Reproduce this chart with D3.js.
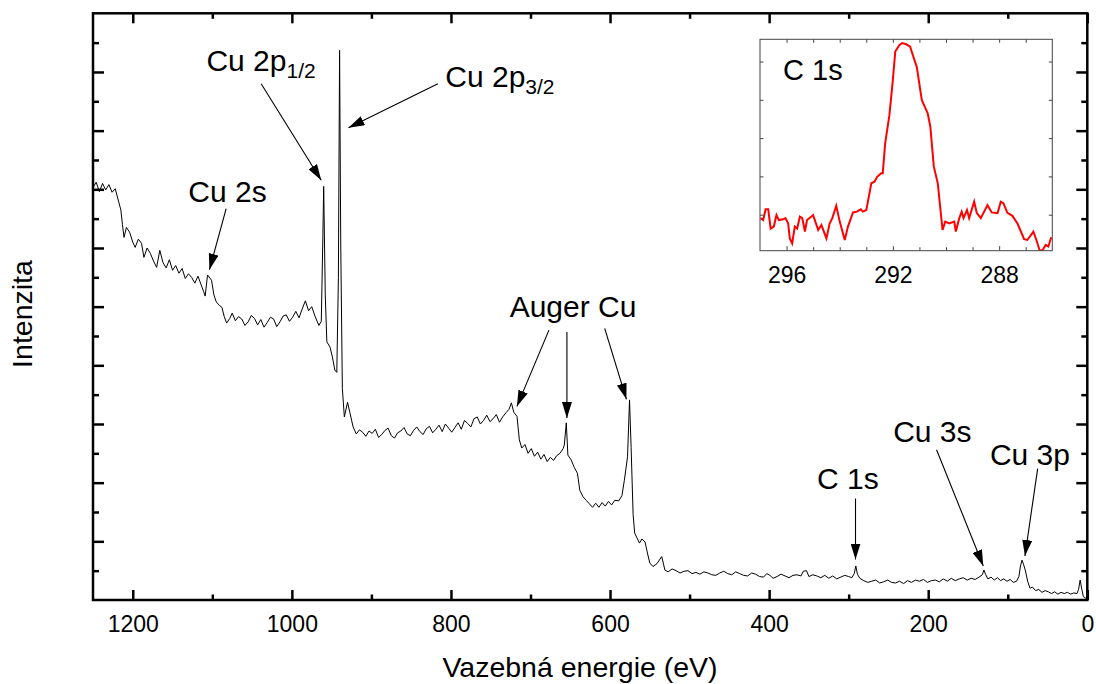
<!DOCTYPE html>
<html>
<head>
<meta charset="utf-8">
<style>
     body {
          margin: 0;
          background: #fff;
          font-family: "Liberation Sans", Arial, sans-serif;
     }
     .frame {
          fill: none;
          stroke: #000;
          stroke-width: 2.5px;
     }
     .axis path {
          display: none;
     }
     .axis line {
          stroke: #000;
          stroke-width: 2.5px;
     }
     .axis text {
          font-family: "Liberation Sans", Arial, sans-serif;
          font-size: 23px;
          fill: #000;
     }
     .inset-axis line {
          stroke: #444;
          stroke-width: 1px;
     }
     .spectrum {
          fill: none;
          stroke: #000;
          stroke-width: 1px;
     }
     .c1s-line {
          fill: none;
          stroke: #ff0000;
          stroke-width: 2px;
     }
     .label {
          font-size: 30px;
          fill: #000;
     }
     .axis-title {
          font-size: 28.5px;
          fill: #000;
     }
     .arrow {
          stroke: #000;
          stroke-width: 1.1px;
     }
</style>
</head>
<body>
<script src="https://d3js.org/d3.v7.min.js"></script>
<script>

     // survey spectrum, binding energy (eV) and intensity (arb. units)
     var surveyEnergy = [1250, 1246, 1242, 1238, 1234, 1230, 1226, 1222, 1218, 1215, 1213, 1211, 1208, 1204, 1200, 1197, 1193, 1189, 1186, 1182,
          1178, 1174, 1170, 1166, 1162, 1158, 1154, 1150, 1146, 1142, 1138, 1134, 1130, 1126, 1122, 1118, 1114, 1111, 1109, 1106,
          1101, 1098, 1095, 1091, 1088, 1085, 1082, 1078, 1075, 1071, 1067, 1063, 1059, 1055, 1051, 1047, 1043, 1039, 1035, 1031,
          1027, 1023, 1019, 1015, 1011, 1007, 1003, 999, 995, 991, 987, 983, 979, 975, 971, 966, 963, 961, 960, 958,
          956, 952, 949, 946, 943.5, 941.5, 940, 938.5, 936.5, 934, 930, 927, 923, 919, 915, 911, 907, 903, 899, 895,
          891, 887, 883, 879, 875, 871, 867, 863, 859, 855, 851, 847, 843, 839, 835, 831, 827, 823, 819, 815,
          811, 807, 803, 799, 795, 791, 787, 783, 779, 775, 771, 767, 763, 759, 755, 751, 747, 743, 739, 735,
          731, 727, 724, 721, 717, 714, 711, 707, 703, 699, 695, 691, 687, 683, 679, 675, 671, 667, 663, 659,
          657.5, 655, 653, 649, 645, 641, 638, 634, 630, 626, 622, 618, 614, 610, 606, 602, 598, 594, 589, 585,
          582, 578, 575.5, 573.5, 571, 569, 563, 560, 556, 553, 550, 546, 541, 538, 535, 531, 527, 522, 517, 512,
          507, 502, 497, 492, 487, 482, 477, 472, 467, 462, 457, 452, 447, 442, 437, 432, 427, 422, 417, 412,
          407, 403, 399, 395, 390, 385, 380, 375, 370, 365, 360, 357, 353, 350, 345, 340, 335, 330, 325, 320,
          315, 310, 305, 300, 296, 293, 291, 289, 286, 281, 276, 271, 266, 261, 256, 251, 246, 241, 236, 231,
          226, 221, 216, 211, 206, 201, 196, 191, 186, 181, 176, 171, 166, 161, 156, 151, 146, 141, 136, 132,
          130, 128, 125, 121, 117, 113, 109, 105, 101, 97, 93, 89, 86, 84, 82, 80, 78, 75, 72, 69,
          65, 61, 57, 53, 49, 45, 41, 37, 33, 29, 25, 21, 17, 13, 11, 9, 7, 5, 2, 0];

     var surveyIntensity = [70.3, 71.2, 69.6, 71.0, 69.9, 70.8, 69.5, 70.1, 68.0, 66.5, 64.0, 61.8, 63.5, 62.7, 61.0, 60.1, 61.5, 60.8, 58.4, 60.0,
          59.1, 57.8, 56.7, 59.6, 57.5, 56.6, 58.0, 56.2, 57.0, 55.7, 56.5, 54.8, 55.6, 55.0, 54.0, 55.2, 53.7, 52.6, 51.8, 55.4,
          54.5, 52.0, 50.8, 50.2, 49.9, 48.3, 47.2, 48.0, 48.9, 47.6, 48.3, 47.9, 46.8, 47.4, 48.5, 48.0, 46.9, 47.8, 46.5, 47.3,
          48.2, 47.9, 46.6, 47.4, 48.4, 48.6, 47.5, 48.2, 49.2, 48.1, 49.6, 51.0, 49.3, 50.0, 48.4, 46.8, 47.5, 62.0, 70.5, 52.0,
          44.0, 43.1, 41.4, 39.2, 38.8, 55.0, 93.7, 60.0, 36.0, 31.2, 33.7, 31.9, 29.5, 28.3, 29.0, 28.6, 27.9, 28.8, 28.4, 29.1,
          27.7, 28.2, 28.9, 29.3, 28.0, 27.6, 28.5, 28.8, 29.4, 28.3, 28.0, 28.9, 29.5, 28.7, 28.2, 29.2, 29.6, 28.5, 29.1, 29.8,
          28.7, 30.0, 29.3, 28.6, 29.4, 30.2, 29.1, 30.6, 30.1, 29.5, 30.9, 31.2, 30.0, 30.6, 31.5, 30.4, 30.9, 31.6, 30.3, 31.2,
          31.9, 32.5, 33.6, 32.0, 31.3, 27.3, 25.9, 26.5, 25.0, 25.8, 24.5, 25.2, 24.0, 24.8, 23.6, 24.3, 23.8, 24.6, 25.0, 25.8,
          26.4, 30.2, 24.7, 23.9, 22.6, 21.6, 18.7, 17.6, 17.0, 16.4, 15.8, 16.5, 15.8, 16.6, 16.0, 16.8, 16.2, 17.0, 16.9, 17.8,
          20.4, 24.4, 34.1, 26.0, 14.6, 11.4, 9.7, 10.4, 9.9, 8.0, 6.3, 5.7, 6.2, 6.8, 7.4, 5.1, 4.8, 5.3, 5.0, 4.6,
          4.9, 5.0, 4.5, 4.7, 4.4, 4.8, 4.6, 4.3, 4.2, 4.6, 4.9, 4.5, 4.3, 4.8, 4.5, 4.2, 4.1, 4.6, 4.4, 4.0,
          3.9, 4.5, 4.2, 3.7, 4.0, 4.4, 4.1, 3.8, 4.2, 4.3, 4.1, 4.9, 5.0, 4.0, 4.3, 4.1, 3.8, 4.2, 3.7, 4.1,
          3.6, 3.9, 4.2, 4.0, 3.8, 4.5, 5.8, 4.4, 3.7, 3.3, 3.0, 3.2, 3.4, 2.9, 3.1, 3.4, 3.0, 2.9, 3.2, 2.8,
          3.3, 3.0, 3.4, 3.2, 3.5, 3.0, 3.3, 3.4, 3.1, 3.6, 3.2, 3.7, 3.3, 3.6, 3.8, 3.4, 3.7, 3.5, 3.9, 4.3,
          5.1, 4.4, 3.6, 3.9, 3.4, 3.8, 3.3, 3.6, 3.2, 3.5, 3.0, 3.2, 4.0, 5.8, 6.8, 6.0, 5.1, 3.2, 2.0, 2.2,
          1.6, 1.8, 1.3, 1.6, 1.4, 1.1, 1.4, 1.0, 1.3, 1.1, 1.3, 1.0, 1.2, 1.1, 1.8, 3.4, 1.9, 0.6, 0.3, 0.2];

     // C 1s detail (inset)
     var c1sEnergy = [296.98, 296.88, 296.79, 296.69, 296.60, 296.48, 296.38, 296.29, 296.13, 296.04, 295.94, 295.88, 295.79, 295.69,
          295.60, 295.50, 295.41, 295.31, 295.23, 295.00, 294.81, 294.69, 294.50, 294.38, 294.28, 294.13, 294.00, 293.81,
          293.69, 293.50, 293.35, 293.21, 293.13, 293.00, 292.81, 292.69, 292.59, 292.44, 292.38, 292.29, 292.13, 292.00,
          291.91, 291.75, 291.65, 291.50, 291.35, 291.25, 291.10, 290.91, 290.69, 290.59, 290.46, 290.31, 290.13, 290.03,
          289.88, 289.69, 289.63, 289.50, 289.41, 289.34, 289.21, 289.13, 288.94, 288.84, 288.69, 288.44, 288.28, 288.06,
          287.94, 287.84, 287.69, 287.50, 287.31, 287.06, 286.94, 286.71, 286.60, 286.48, 286.38, 286.25, 286.15, 286.04];

     var c1sIntensity = [0.91, 0.86, 1.14, 1.14, 0.64, 0.69, 0.99, 0.86, 0.88, 0.91, 0.77, 0.38, 0.25, 0.69,
          0.64, 0.95, 0.91, 0.56, 0.86, 0.99, 0.60, 0.73, 0.38, 0.77, 0.91, 1.23, 0.82, 0.34,
          0.69, 1.06, 1.08, 1.14, 1.08, 1.12, 1.82, 1.86, 1.99, 2.08, 2.08, 2.86, 3.60, 4.52,
          5.26, 5.43, 5.48, 5.45, 5.39, 5.17, 4.86, 3.99, 3.65, 3.30, 2.26, 1.82, 0.60, 0.82,
          0.77, 0.82, 0.56, 0.91, 1.08, 0.91, 1.12, 0.91, 1.34, 1.04, 0.91, 1.25, 1.06, 1.04,
          1.34, 1.30, 1.05, 0.97, 0.77, 0.36, 0.34, 0.56, 0.34, 0.08, 0.06, 0.21, 0.17, 0.41];

     var xTicks = [1200, 1000, 800, 600, 400, 200, 0];
     var xMinorTicks = [1100, 900, 700, 500, 300, 100];
     var yTicks = [10, 20, 30, 40, 50, 60, 70, 80, 90];
     var yMinorTicks = [5, 15, 25, 35, 45, 55, 65, 75, 85, 95];
     var insetTicks = [296, 292, 288];
     var insetMinorTicks = [295, 294, 293, 291, 290, 289, 287];
     var insetYTicks = [1, 2, 3, 4, 5];

     // peak labels and arrows, in data units (eV, intensity)
     var peakLabels = [
          {text: "Cu 2p", sub: "1/2", e: 1107.4, v: 90.1},
          {text: "Cu 2p", sub: "3/2", e: 807.1, v: 87.4},
          {text: "Cu 2s", e: 1130.1, v: 67.8},
          {text: "Auger Cu", e: 726.2, v: 48.3},
          {text: "C 1s", e: 339.7, v: 19.0},
          {text: "Cu 3s", e: 244.1, v: 27.0},
          {text: "Cu 3p", e: 122.4, v: 23.0}
     ];
     var peakArrows = [
          [1038.6, 88.0, 963.1, 71.55],
          [816.4, 88.0, 928.8, 80.5],
          [1082.6, 66.7, 1103.6, 56.3],
          [676.8, 46.0, 717.1, 33.0],
          [654.2, 45.7, 654.2, 31.0],
          [606.7, 46.3, 579.4, 34.2],
          [291.4, 17.3, 291.4, 6.9],
          [189.5, 25.6, 130.8, 5.8],
          [62.4, 22.4, 78.4, 7.5]
     ];

     var width = 1096, height = 684;
     var plot = {left: 93, right: 1087.3, top: 13.3, bottom: 600};
     var inset = {left: 760, right: 1052.3, top: 39.3, bottom: 250.7};

     var svg = d3.select("body").append("svg")
          .attr("width", width)
          .attr("height", height);

     svg.append("defs").append("marker")
          .attr("id", "head")
          .attr("viewBox", "0 -5 16 10")
          .attr("refX", 16)
          .attr("refY", 0)
          .attr("markerWidth", 16)
          .attr("markerHeight", 10)
          .attr("markerUnits", "userSpaceOnUse")
          .attr("orient", "auto")
       .append("path")
          .attr("d", "M0,-5L16,0L0,5Z")
          .attr("fill", "#000");

     var x = d3.scaleLinear().domain([1250, 0]).range([plot.left, plot.right]);
     var y = d3.scaleLinear().domain([0, 100]).range([plot.bottom, plot.top]);

     var survey = surveyEnergy.map(function(e, i) { return [e, surveyIntensity[i]]; });

     var line = d3.line()
          .x(function(d) { return x(d[0]); })
          .y(function(d) { return y(d[1]); });

     svg.append("path")
          .datum(survey)
          .attr("class", "spectrum")
          .attr("d", line);

     // axes: ticks point inwards on all four sides
     function addAxis(axis, tx, ty, cls) {
          svg.append("g")
               .attr("class", cls || "axis")
               .attr("transform", "translate(" + tx + "," + ty + ")")
               .call(axis);
     }
     addAxis(d3.axisBottom(x).tickValues(xTicks).tickSize(-10).tickPadding(16).tickFormat(d3.format("d")), 0, plot.bottom);
     addAxis(d3.axisBottom(x).tickValues(xMinorTicks).tickSize(-5.5).tickFormat(""), 0, plot.bottom);
     addAxis(d3.axisTop(x).tickValues(xTicks).tickSize(-10).tickFormat(""), 0, plot.top);
     addAxis(d3.axisTop(x).tickValues(xMinorTicks).tickSize(-5.5).tickFormat(""), 0, plot.top);
     addAxis(d3.axisLeft(y).tickValues(yTicks).tickSize(-11).tickFormat(""), plot.left, 0);
     addAxis(d3.axisLeft(y).tickValues(yMinorTicks).tickSize(-6).tickFormat(""), plot.left, 0);
     addAxis(d3.axisRight(y).tickValues(yTicks).tickSize(-11).tickFormat(""), plot.right, 0);
     addAxis(d3.axisRight(y).tickValues(yMinorTicks).tickSize(-6).tickFormat(""), plot.right, 0);

     svg.append("rect")
          .attr("class", "frame")
          .attr("x", plot.left)
          .attr("y", plot.top)
          .attr("width", plot.right - plot.left)
          .attr("height", plot.bottom - plot.top);

     // arrows and labels
     svg.selectAll(".arrow")
          .data(peakArrows)
       .enter().append("line")
          .attr("class", "arrow")
          .attr("x1", function(d) { return x(d[0]); })
          .attr("y1", function(d) { return y(d[1]); })
          .attr("x2", function(d) { return x(d[2]); })
          .attr("y2", function(d) { return y(d[3]); })
          .attr("marker-end", "url(#head)");

     var labels = svg.selectAll(".label")
          .data(peakLabels)
       .enter().append("text")
          .attr("class", "label")
          .attr("x", function(d) { return x(d.e); })
          .attr("y", function(d) { return y(d.v); });
     labels.append("tspan").text(function(d) { return d.text; });
     labels.filter(function(d) { return d.sub; })
       .append("tspan")
          .attr("font-size", "21px")
          .attr("dy", 6.5)
          .text(function(d) { return d.sub; });

     svg.append("text")
          .attr("class", "axis-title")
          .attr("x", 580)
          .attr("y", 677)
          .attr("text-anchor", "middle")
          .text("Vazebná energie (eV)");

     svg.append("text")
          .attr("class", "axis-title")
          .attr("transform", "translate(32,314) rotate(-90)")
          .attr("text-anchor", "middle")
          .text("Intenzita");

     // inset with C 1s detail
     var xi = d3.scaleLinear().domain([297, 286]).range([inset.left, inset.right]);
     var yi = d3.scaleLinear().domain([0.06, 5.58]).range([inset.bottom, inset.top]);

     svg.append("rect")
          .attr("x", inset.left)
          .attr("y", inset.top)
          .attr("width", inset.right - inset.left)
          .attr("height", inset.bottom - inset.top)
          .attr("fill", "#fff");

     svg.append("clipPath")
          .attr("id", "inset-clip")
       .append("rect")
          .attr("x", inset.left)
          .attr("y", inset.top)
          .attr("width", inset.right - inset.left)
          .attr("height", inset.bottom - inset.top);

     var c1s = c1sEnergy.map(function(e, i) { return [e, c1sIntensity[i]]; });

     svg.append("path")
          .datum(c1s)
          .attr("class", "c1s-line")
          .attr("clip-path", "url(#inset-clip)")
          .attr("d", d3.line()
               .x(function(d) { return xi(d[0]); })
               .y(function(d) { return yi(d[1]); }));

     addAxis(d3.axisBottom(xi).tickValues(insetTicks).tickSize(-4.5).tickPadding(16).tickFormat(d3.format("d")), 0, inset.bottom, "axis inset-axis");
     addAxis(d3.axisBottom(xi).tickValues(insetMinorTicks).tickSize(-3.5).tickFormat(""), 0, inset.bottom, "axis inset-axis");
     addAxis(d3.axisTop(xi).tickValues(insetTicks.concat(insetMinorTicks)).tickSize(-3.5).tickFormat(""), 0, inset.top, "axis inset-axis");
     addAxis(d3.axisLeft(yi).tickValues(insetYTicks).tickSize(-3.5).tickFormat(""), inset.left, 0, "axis inset-axis");
     addAxis(d3.axisRight(yi).tickValues(insetYTicks).tickSize(-3.5).tickFormat(""), inset.right, 0, "axis inset-axis");

     svg.append("rect")
          .attr("x", inset.left)
          .attr("y", inset.top)
          .attr("width", inset.right - inset.left)
          .attr("height", inset.bottom - inset.top)
          .attr("fill", "none")
          .attr("stroke", "#444")
          .attr("stroke-width", 1);

     svg.append("text")
          .attr("class", "label")
          .attr("x", 783)
          .attr("y", 80)
          .style("font-size", "29px")
          .text("C 1s");

</script>
</body>
</html>
